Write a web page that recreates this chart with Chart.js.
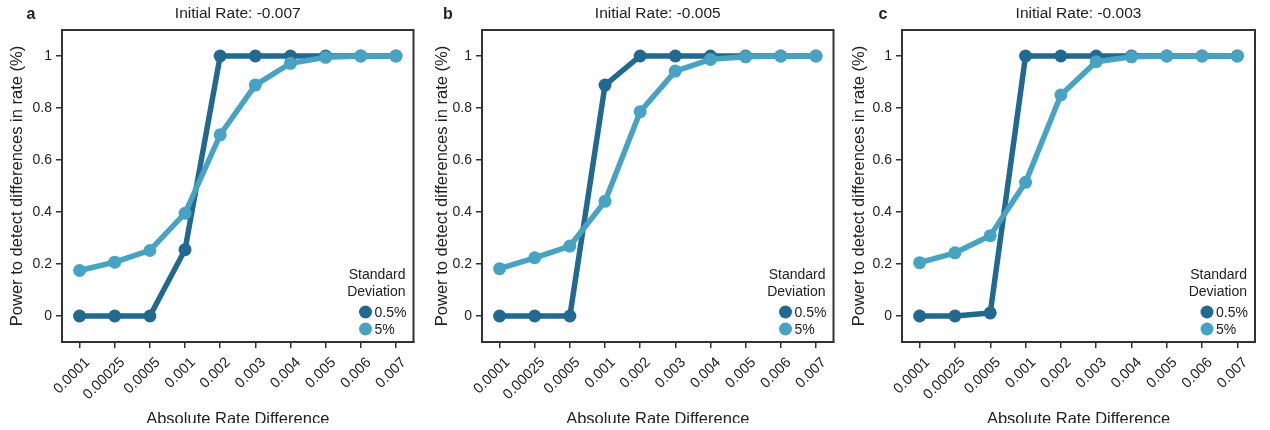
<!DOCTYPE html>
<html>
<head>
<meta charset="utf-8">
<script src="https://cdn.jsdelivr.net/npm/chart.js@4.4.0/dist/chart.umd.min.js"></script>
<style>
  body { margin: 0; background: #fff; width: 1270px; height: 430px; overflow: hidden; position: relative; }
  .panel { position: absolute; top: 0; height: 423px; overflow: hidden; }
  .panel > div { position: relative; height: 440px; }
</style>
</head>
<body>
<div class="panel" style="left:0;width:420px"><div><canvas id="chartA"></canvas></div></div>
<div class="panel" style="left:420px;width:420px"><div><canvas id="chartB"></canvas></div></div>
<div class="panel" style="left:840px;width:430px"><div><canvas id="chartC"></canvas></div></div>
<script>
// x categories (absolute rate difference)
const rateDiffs = ['0.0001', '0.00025', '0.0005', '0.001', '0.002', '0.003', '0.004', '0.005', '0.006', '0.007'];
const powerTicks = [0, 0.2, 0.4, 0.6, 0.8, 1];
const sdLabels = ['0.5%', '5%'];
const legendTitle = ['Standard', 'Deviation'];

// panel a, initial rate -0.007
const powerA_sd05 = [0, 0, 0, 0.255, 1, 1, 1, 1, 1, 1];
const powerA_sd5 = [0.175, 0.207, 0.252, 0.395, 0.697, 0.888, 0.972, 0.995, 1, 1];
// panel b, initial rate -0.005
const powerB_sd05 = [0, 0, 0, 0.888, 1, 1, 1, 1, 1, 1];
const powerB_sd5 = [0.182, 0.224, 0.269, 0.441, 0.786, 0.942, 0.987, 0.997, 1, 1];
// panel c, initial rate -0.003
const powerC_sd05 = [0, 0, 0.012, 1, 1, 1, 1, 1, 1, 1];
const powerC_sd5 = [0.205, 0.243, 0.309, 0.514, 0.85, 0.978, 0.997, 1, 1, 1];

const darkBlue = '#22698f';
const lightBlue = '#47a3c1';
const ink = '#222';
const axisGray = '#333';
const fontFam = '"Liberation Sans", Arial, sans-serif';

const framePlugin = {
  id: 'frame',
  afterDraw(chart) {
    const { ctx, chartArea: a } = chart;
    const o = chart.options.plugins.frame;
    ctx.save();
    ctx.strokeStyle = axisGray;
    ctx.lineWidth = 2;
    ctx.strokeRect(a.left, a.top, a.right - a.left, a.bottom - a.top);

    ctx.fillStyle = ink;
    ctx.textBaseline = 'middle';
    ctx.textAlign = 'center';
    ctx.font = '15.5px ' + fontFam;
    ctx.fillText(o.title, (a.left + a.right) / 2, 14);
    ctx.font = 'bold 16px ' + fontFam;
    ctx.fillText(o.letter, a.left - o.letterDx, 15);

    // legend inside plot, bottom right
    ctx.font = '14px ' + fontFam;
    ctx.textAlign = 'right';
    ctx.fillText(legendTitle[0], a.right - 8, a.bottom - 67);
    ctx.fillText(legendTitle[1], a.right - 8, a.bottom - 50);
    ctx.textAlign = 'left';
    const cols = [darkBlue, lightBlue];
    sdLabels.forEach((lab, i) => {
      const y = a.bottom - 30 + i * 17;
      ctx.fillStyle = cols[i];
      ctx.beginPath();
      ctx.arc(a.right - 48, y, 6.5, 0, Math.PI * 2);
      ctx.fill();
      ctx.fillStyle = ink;
      ctx.fillText(lab, a.right - 39, y + 1);
    });
    ctx.restore();
  }
};

const makeChart = (id, letter, title, sd05, sd5, opt) => {
  const ds = (label, data, color, order) => ({
    label, data, order,
    borderColor: color,
    backgroundColor: color,
    borderWidth: 5.5,
    pointRadius: 6.5,
    pointBorderWidth: 0,
    pointBackgroundColor: color,
    tension: 0,
    clip: false
  });
  return new Chart(id, {
    type: 'line',
    data: {
      labels: rateDiffs,
      datasets: [
        ds(sdLabels[1], sd5, lightBlue, 0),
        ds(sdLabels[0], sd05, darkBlue, 1)
      ]
    },
    options: {
      responsive: true,
      maintainAspectRatio: false,
      animation: false,
      layout: { padding: { top: 30, left: 0, right: opt.padRight, bottom: 0 } },
      plugins: {
        legend: { display: false },
        tooltip: { enabled: false },
        frame: { title, letter, letterDx: opt.letterDx }
      },
      scales: {
        x: {
          type: 'category',
          offset: true,
          grid: { drawOnChartArea: false, tickLength: 6, color: axisGray, lineWidth: 1.5 },
          border: { color: axisGray, width: 2 },
          ticks: {
            autoSkip: false, minRotation: 45, maxRotation: 45, padding: 6, labelOffset: 8,
            color: ink, font: { family: fontFam, size: 14.5 }
          },
          title: {
            display: true, text: 'Absolute Rate Difference', color: ink,
            font: { family: fontFam, size: 16.5 }, padding: { top: 0, bottom: 11 }
          },
          afterFit: s => { s.height = 98; }
        },
        y: {
          min: -0.1,
          max: 1.1,
          afterBuildTicks: s => { s.ticks = powerTicks.map(v => ({ value: v })); },
          grid: { drawOnChartArea: false, tickLength: 6, color: axisGray, lineWidth: 1.5 },
          border: { color: axisGray, width: 2 },
          ticks: {
            padding: 4, color: ink, font: { family: fontFam, size: 14 },
            callback: v => String(v)
          },
          title: {
            display: true, text: 'Power to detect differences in rate (%)', color: ink,
            font: { family: fontFam, size: 16.5 }, padding: { top: opt.yTitlePad, bottom: 0 }
          },
          afterFit: s => { s.width = 62; }
        }
      }
    },
    plugins: [framePlugin]
  });
};

makeChart('chartA', 'a', 'Initial Rate: -0.007', powerA_sd05, powerA_sd5, { padRight: 5, yTitlePad: 8, letterDx: 31 });
makeChart('chartB', 'b', 'Initial Rate: -0.005', powerB_sd05, powerB_sd5, { padRight: 3, yTitlePad: 13, letterDx: 34 });
makeChart('chartC', 'c', 'Initial Rate: -0.003', powerC_sd05, powerC_sd5, { padRight: 15, yTitlePad: 10, letterDx: 19 });
</script>
</body>
</html>
